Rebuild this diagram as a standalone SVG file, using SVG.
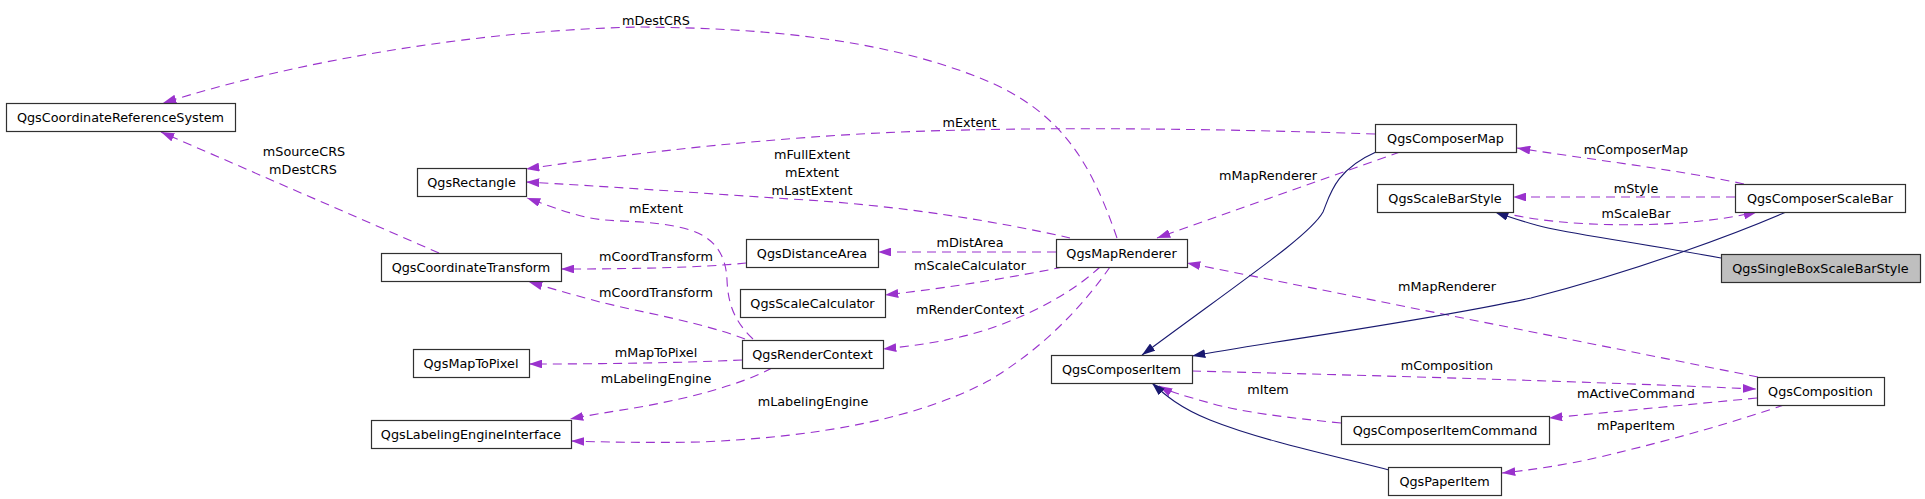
<svg xmlns="http://www.w3.org/2000/svg" width="1925" height="499" viewBox="0 0 1925 499">
<style>
.n rect{fill:#fff;stroke:#303030;stroke-width:1.2}
.n.g rect{fill:#bfbfbf}
text{font-family:"DejaVu Sans","Liberation Sans",sans-serif;font-size:12.8px;fill:#000;text-anchor:middle}
.d{fill:none;stroke:#9a32cd;stroke-width:1.1;stroke-dasharray:9,6;marker-end:url(#ap)}
.s{fill:none;stroke:#191970;stroke-width:1.1;marker-end:url(#an)}
</style>
<defs>
<marker id="ap" markerUnits="userSpaceOnUse" viewBox="0 0 13.3 8.9" markerWidth="13.3" markerHeight="8.9" refX="13.3" refY="4.45" orient="auto">
<path d="M0,0 L13.3,4.45 L0,8.9 z" fill="#9a32cd" stroke="none"/>
</marker>
<marker id="an" markerUnits="userSpaceOnUse" viewBox="0 0 13.3 8.9" markerWidth="13.3" markerHeight="8.9" refX="13.3" refY="4.45" orient="auto">
<path d="M0,0 L13.3,4.45 L0,8.9 z" fill="#191970" stroke="none"/>
</marker>
</defs>
<rect width="1925" height="499" fill="#fff"/>
<g id="edges">
<path class="d" d="M1117,238 C1090,160 1060,110 980,78 C880,38 760,28 640,27 C480,30 300,60 163,103"/>
<text x="656" y="25">mDestCRS</text>
<path class="d" d="M1375,134 C1200,128 1000,126 860,134 C720,142 600,158 526,169"/>
<text x="969.5" y="127">mExtent</text>
<path class="d" d="M1070,238 C1000,222 900,205 790,199 C700,193 600,186 526,182"/>
<text x="812" y="159">mFullExtent</text>
<text x="812" y="177">mExtent</text>
<text x="812" y="194.5">mLastExtent</text>
<path class="d" d="M753,339 C735,322 728,305 727,280 C726,255 715,238 690,230 C660,221 630,222 605,220 C580,218 555,208 527,198"/>
<text x="656" y="213">mExtent</text>
<path class="d" d="M439,253 L161,132"/>
<text x="304" y="156">mSourceCRS</text>
<text x="303" y="173.5">mDestCRS</text>
<path class="d" d="M1056,252 L878,252"/>
<text x="970" y="247">mDistArea</text>
<path class="d" d="M746,263 C700,268 620,269 561,269"/>
<text x="656" y="261">mCoordTransform</text>
<path class="d" d="M745,339 C700,322 640,312 600,302 C570,294 550,288 529,282"/>
<text x="656" y="297">mCoordTransform</text>
<path class="d" d="M742,360 C680,363 600,364 529,364"/>
<text x="656" y="357">mMapToPixel</text>
<path class="d" d="M772,368 C740,385 690,398 640,407 C610,412 590,415 570,419"/>
<text x="656" y="383">mLabelingEngine</text>
<path class="d" d="M1110,267 C1080,310 1040,350 990,380 C920,418 820,437 700,442 C650,443 600,442 571,441"/>
<text x="813" y="406">mLabelingEngine</text>
<path class="d" d="M1063,267 C1000,280 930,290 885,295"/>
<text x="970" y="270">mScaleCalculator</text>
<path class="d" d="M1100,267 C1075,290 1040,310 1000,325 C960,340 920,345 883,349"/>
<text x="970" y="313.5">mRenderContext</text>
<path class="d" d="M1400,152 L1157,238"/>
<text x="1268" y="179.5">mMapRenderer</text>
<path class="d" d="M1744,184 C1680,170 1580,158 1517,148"/>
<text x="1636" y="153.5">mComposerMap</text>
<path class="d" d="M1735,197 L1513,197"/>
<text x="1636" y="193">mStyle</text>
<path class="d" d="M1500,212 C1560,228 1680,230 1757,212"/>
<text x="1636" y="218">mScaleBar</text>
<path class="d" d="M1192,371 C1400,376 1600,382 1756,389"/>
<text x="1447" y="370">mComposition</text>
<path class="d" d="M1341,423 C1290,418 1240,412 1210,403 C1185,396 1170,392 1159,386"/>
<text x="1268" y="394">mItem</text>
<path class="d" d="M1757,398 L1549,418"/>
<text x="1636" y="398">mActiveCommand</text>
<path class="d" d="M1784,405 C1740,420 1680,438 1600,457 C1560,466 1530,470 1502,473"/>
<text x="1636" y="430">mPaperItem</text>
<path class="d" d="M1758,377 L1187,263"/>
<text x="1447" y="291">mMapRenderer</text>
<path class="s" d="M1721,258 C1650,245 1580,235 1548,228 C1530,224 1515,219 1495,212"/>
<path class="s" d="M1786,212 C1740,232 1640,270 1531,298 C1420,322 1280,340 1192,356"/>
<path class="s" d="M1376,152 C1335,170 1330,195 1323,212 C1310,235 1250,275 1142,355"/>
<path class="s" d="M1389,470 C1330,455 1260,440 1210,420 C1180,408 1165,395 1152,383"/>
</g>
<g id="QgsCoordinateReferenceSystem" class="n"><rect x="6.5" y="103.5" width="229" height="28"/><text x="120.5" y="121.5">QgsCoordinateReferenceSystem</text></g>
<g id="QgsRectangle" class="n"><rect x="417.5" y="168.5" width="109" height="28"/><text x="471.5" y="186.5">QgsRectangle</text></g>
<g id="QgsCoordinateTransform" class="n"><rect x="381.5" y="253.5" width="180" height="28"/><text x="471" y="271.5">QgsCoordinateTransform</text></g>
<g id="QgsMapToPixel" class="n"><rect x="413.5" y="349.5" width="116" height="28"/><text x="471" y="367.5">QgsMapToPixel</text></g>
<g id="QgsLabelingEngineInterface" class="n"><rect x="371.5" y="420.5" width="200" height="28"/><text x="471" y="438.5">QgsLabelingEngineInterface</text></g>
<g id="QgsDistanceArea" class="n"><rect x="746.5" y="239.5" width="132" height="28"/><text x="812" y="257.5">QgsDistanceArea</text></g>
<g id="QgsScaleCalculator" class="n"><rect x="740.5" y="289.5" width="145" height="28"/><text x="812.5" y="307.5">QgsScaleCalculator</text></g>
<g id="QgsRenderContext" class="n"><rect x="742.5" y="340.5" width="141" height="28"/><text x="812.5" y="358.5">QgsRenderContext</text></g>
<g id="QgsMapRenderer" class="n"><rect x="1056.5" y="239.5" width="131" height="28"/><text x="1121.5" y="257.5">QgsMapRenderer</text></g>
<g id="QgsComposerItem" class="n"><rect x="1051.5" y="355.5" width="141" height="28"/><text x="1121.5" y="373.5">QgsComposerItem</text></g>
<g id="QgsComposerMap" class="n"><rect x="1375.5" y="124.5" width="141" height="28"/><text x="1445.5" y="142.5">QgsComposerMap</text></g>
<g id="QgsScaleBarStyle" class="n"><rect x="1377.5" y="184.5" width="136" height="28"/><text x="1445" y="202.5">QgsScaleBarStyle</text></g>
<g id="QgsComposerItemCommand" class="n"><rect x="1341.5" y="416.5" width="208" height="28"/><text x="1445" y="434.5">QgsComposerItemCommand</text></g>
<g id="QgsPaperItem" class="n"><rect x="1388.5" y="467.5" width="113" height="28"/><text x="1444.5" y="485.5">QgsPaperItem</text></g>
<g id="QgsComposerScaleBar" class="n"><rect x="1735.5" y="184.5" width="170" height="28"/><text x="1820" y="202.5">QgsComposerScaleBar</text></g>
<g id="QgsSingleBoxScaleBarStyle" class="n g"><rect x="1721.5" y="254.5" width="199" height="28"/><text x="1820.5" y="272.5">QgsSingleBoxScaleBarStyle</text></g>
<g id="QgsComposition" class="n"><rect x="1757.5" y="377.5" width="127" height="28"/><text x="1820.5" y="395.5">QgsComposition</text></g>
</svg>
